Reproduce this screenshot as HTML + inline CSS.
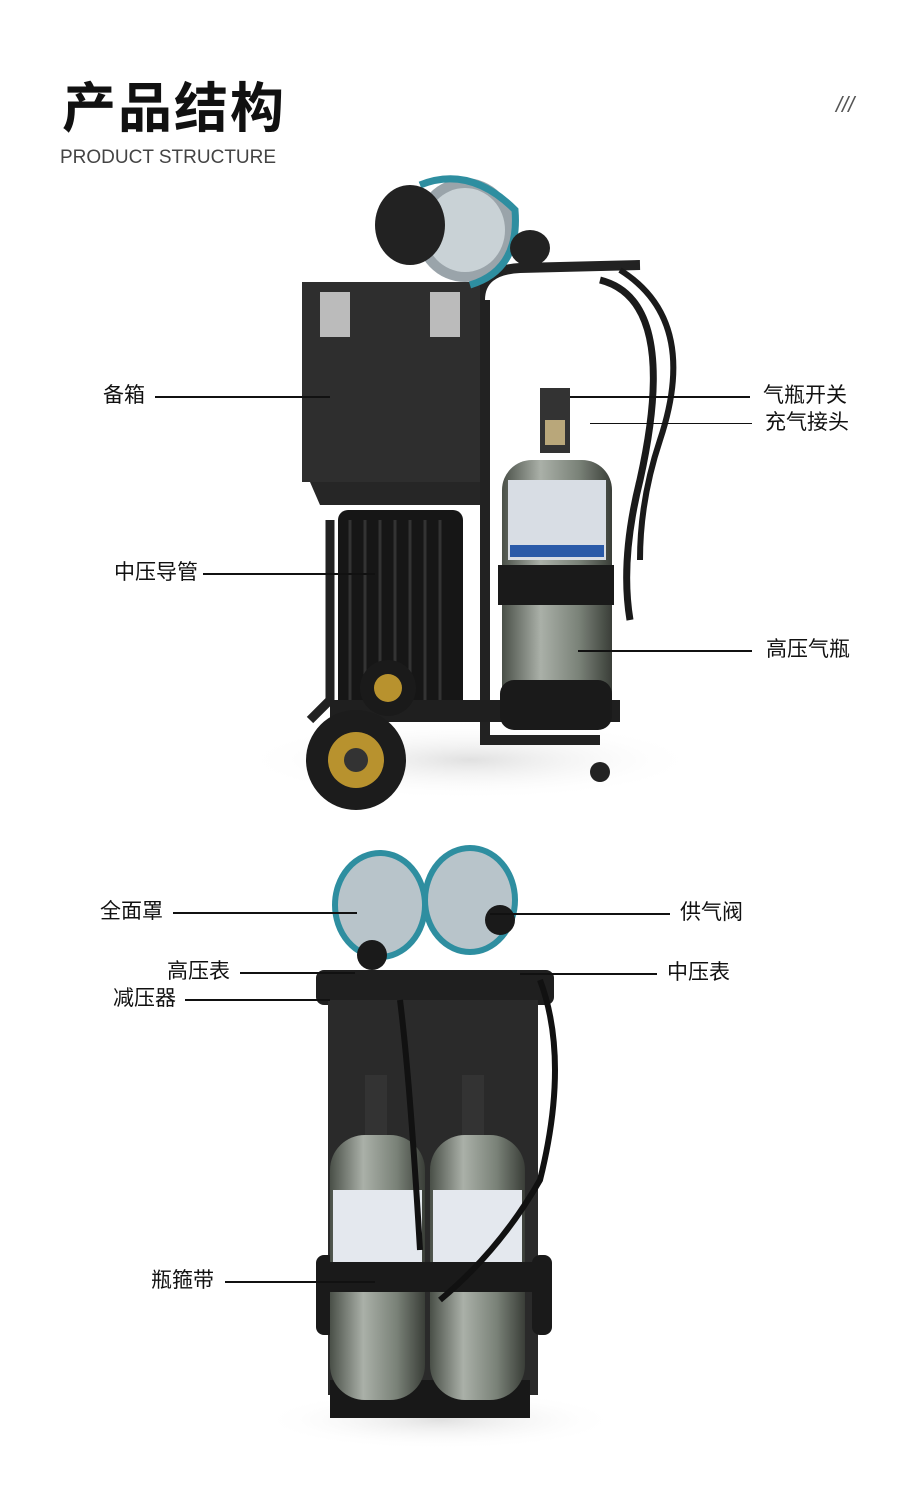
<!DOCTYPE html>
<html><head><meta charset="utf-8"><style>
html,body{margin:0;padding:0;background:#fff;}
body{width:920px;height:1511px;position:relative;overflow:hidden;font-family:"Liberation Sans","Noto Sans CJK SC",sans-serif;}
.t{position:absolute;font-size:21px;color:#111;line-height:1;white-space:nowrap;}
.l{position:absolute;height:2px;background:#111;}
</style></head><body>
<div style="position:absolute;left:62px;top:74px;font-size:54px;font-weight:bold;color:#111;letter-spacing:2px;font-family:'Noto Sans CJK SC',sans-serif;line-height:1.1">产品结构</div>
<div style="position:absolute;left:60px;top:147px;font-size:19px;color:#444;letter-spacing:0">PRODUCT STRUCTURE</div>
<div style="position:absolute;left:836px;top:92px;font-size:22px;color:#555;font-style:italic">///</div>

<svg width="920" height="1511" style="position:absolute;left:0;top:0">
<defs>
<linearGradient id="cy" x1="0" x2="1"><stop offset="0" stop-color="#4a5048"/><stop offset=".35" stop-color="#aab0a8"/><stop offset=".7" stop-color="#7a8278"/><stop offset="1" stop-color="#3a3e38"/></linearGradient>
<radialGradient id="sh"><stop offset="0" stop-color="#ccc" stop-opacity=".6"/><stop offset="1" stop-color="#fff" stop-opacity="0"/></radialGradient>
</defs>
<ellipse cx="470" cy="760" rx="230" ry="40" fill="url(#sh)"/>
<path d="M480 300 Q480 270 520 268 L640 265" stroke="#222" stroke-width="10" fill="none"/>
<path d="M485 300 L485 740 L600 740" stroke="#222" stroke-width="10" fill="none"/>
<rect x="302" y="282" width="178" height="200" fill="#2e2e2e"/>
<path d="M310 482 L480 482 L480 505 L320 505 Z" fill="#262626"/>
<rect x="338" y="510" width="125" height="200" rx="10" fill="#161616"/>
<path d="M350 520 v180 M365 520 v180 M380 520 v180 M395 520 v180 M410 520 v180 M425 520 v180 M440 520 v180" stroke="#333" stroke-width="3"/>
<path d="M330 520 L330 700 L310 720" stroke="#222" stroke-width="9" fill="none"/>
<rect x="330" y="700" width="290" height="22" fill="#1f1f1f"/>
<circle cx="388" cy="688" r="28" fill="#1a1a1a"/><circle cx="388" cy="688" r="14" fill="#b8922e"/>
<circle cx="356" cy="760" r="50" fill="#1c1c1c"/><circle cx="356" cy="760" r="28" fill="#b8922e"/><circle cx="356" cy="760" r="12" fill="#333"/>
<circle cx="600" cy="772" r="10" fill="#222"/>
<rect x="502" y="460" width="110" height="270" rx="30" fill="url(#cy)"/>
<rect x="508" y="480" width="98" height="80" fill="#d8dde4"/>
<rect x="510" y="545" width="94" height="12" fill="#2a5aa8"/>
<rect x="498" y="565" width="116" height="40" fill="#1a1a1a"/>
<rect x="500" y="680" width="112" height="50" rx="14" fill="#1a1a1a"/>
<rect x="540" y="388" width="30" height="65" fill="#333"/><rect x="545" y="420" width="20" height="25" fill="#b9a77a"/>
<path d="M600 280 Q680 300 640 480 Q620 560 630 620" stroke="#1a1a1a" stroke-width="7" fill="none"/>
<path d="M620 270 Q700 320 660 440 Q640 500 640 560" stroke="#1a1a1a" stroke-width="6" fill="none"/>
<ellipse cx="465" cy="230" rx="50" ry="52" fill="#9aa4aa"/><ellipse cx="465" cy="230" rx="40" ry="42" fill="#c9d2d6"/>
<path d="M420 185 Q470 165 515 210 Q520 270 470 285" stroke="#2e8ea0" stroke-width="7" fill="none"/>
<ellipse cx="410" cy="225" rx="35" ry="40" fill="#222"/>
<ellipse cx="530" cy="248" rx="20" ry="18" fill="#222"/>
<rect x="320" y="292" width="30" height="45" fill="#bbb"/><rect x="430" y="292" width="30" height="45" fill="#bbb"/>
<ellipse cx="440" cy="1420" rx="180" ry="30" fill="url(#sh)"/>
<rect x="316" y="970" width="238" height="35" rx="8" fill="#1f1f1f"/>
<rect x="328" y="1000" width="210" height="395" fill="#2a2a2a"/>
<rect x="316" y="1255" width="20" height="80" rx="8" fill="#1a1a1a"/><rect x="532" y="1255" width="20" height="80" rx="8" fill="#1a1a1a"/>
<rect x="330" y="1380" width="200" height="38" fill="#181818"/>
<rect x="330" y="1135" width="95" height="265" rx="35" fill="url(#cy)"/>
<rect x="430" y="1135" width="95" height="265" rx="35" fill="url(#cy)"/>
<rect x="333" y="1190" width="89" height="75" fill="#e4e8ee"/><rect x="433" y="1190" width="89" height="75" fill="#e4e8ee"/>
<rect x="322" y="1262" width="210" height="30" fill="#1a1a1a"/>
<rect x="365" y="1075" width="22" height="60" fill="#333"/><rect x="462" y="1075" width="22" height="60" fill="#333"/>
<path d="M540 980 Q570 1060 540 1180 Q500 1250 440 1300" stroke="#111" stroke-width="6" fill="none"/>
<path d="M400 1000 Q410 1080 420 1250" stroke="#111" stroke-width="6" fill="none"/>
<ellipse cx="380" cy="905" rx="45" ry="52" fill="#b8c4ca"/><ellipse cx="380" cy="905" rx="45" ry="52" fill="none" stroke="#2e8ea0" stroke-width="6"/>
<ellipse cx="470" cy="900" rx="45" ry="52" fill="#b8c4ca"/><ellipse cx="470" cy="900" rx="45" ry="52" fill="none" stroke="#2e8ea0" stroke-width="6"/>
<circle cx="372" cy="955" r="15" fill="#1a1a1a"/><circle cx="500" cy="920" r="15" fill="#1a1a1a"/>
</svg>

<div class="t" style="left:103px;top:385px">备箱</div><div class="l" style="left:155px;top:396px;width:175px"></div>
<div class="l" style="left:570px;top:396px;width:180px"></div><div class="t" style="left:763px;top:385px">气瓶开关</div>
<div class="l" style="left:590px;top:423px;width:162px;height:1px"></div><div class="t" style="left:765px;top:412px">充气接头</div>
<div class="t" style="left:114px;top:562px">中压导管</div><div class="l" style="left:203px;top:573px;width:172px"></div>
<div class="l" style="left:578px;top:650px;width:174px"></div><div class="t" style="left:766px;top:639px">高压气瓶</div>
<div class="t" style="left:100px;top:901px">全面罩</div><div class="l" style="left:173px;top:912px;width:184px"></div>
<div class="l" style="left:490px;top:913px;width:180px"></div><div class="t" style="left:680px;top:902px">供气阀</div>
<div class="t" style="left:167px;top:961px">高压表</div><div class="l" style="left:240px;top:972px;width:115px"></div>
<div class="l" style="left:520px;top:973px;width:137px"></div><div class="t" style="left:667px;top:962px">中压表</div>
<div class="t" style="left:113px;top:988px">减压器</div><div class="l" style="left:185px;top:999px;width:145px"></div>
<div class="t" style="left:151px;top:1270px">瓶箍带</div><div class="l" style="left:225px;top:1281px;width:150px"></div>
</body></html>
